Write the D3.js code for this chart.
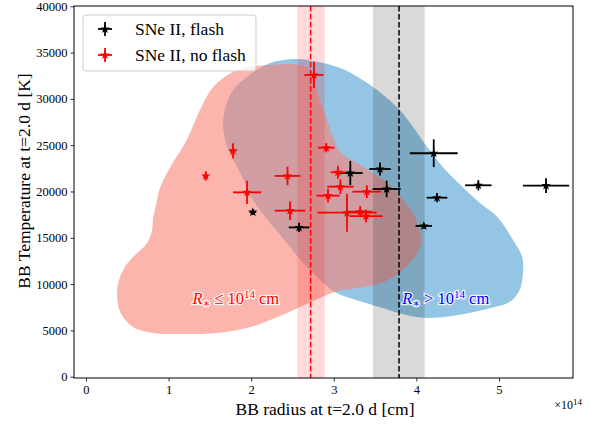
<!DOCTYPE html>
<html>
<head>
<meta charset="utf-8">
<script src="https://cdn.jsdelivr.net/npm/d3@7/dist/d3.min.js"></script>
<style>
  body { margin: 0; background: #ffffff; }
  svg text { font-family: "Liberation Serif", "DejaVu Serif", serif; }
</style>
</head>
<body>
<div id="container_div"></div>
<script>
/*****************************************
 * Description: BB radius vs temperature *
 *****************************************/

/********
 * Data *
 ********/

// SNe II with flash features: radius [1e14 cm], temperature [K], errors
var gvFlashX    = [2.02, 2.58, 3.20, 3.56, 3.64, 4.21, 4.25, 4.09, 4.75, 5.57];
var gvFlashY    = [17770, 16120, 22000, 22430, 20270, 24130, 19330, 16280, 20670, 20630];
var gvFlashXErr = [0.04, 0.125, 0.15, 0.13, 0.17, 0.29, 0.125, 0.10, 0.16, 0.28];
var gvFlashYErr = [300, 500, 1300, 700, 900, 1500, 500, 300, 550, 800];

// SNe II without flash features
var gvNoFlashX    = [1.45, 1.78, 1.95, 2.44, 2.47, 2.76, 2.91, 3.05, 3.08, 2.93, 3.40, 3.16, 3.32, 3.39];
var gvNoFlashY    = [21680, 24400, 19910, 21680, 17930, 32580, 24730, 22070, 20520, 19550, 19980, 17710, 17820, 17350];
var gvNoFlashXErr = [0.03, 0.04, 0.17, 0.155, 0.185, 0.115, 0.10, 0.09, 0.16, 0.14, 0.175, 0.36, 0.15, 0.20];
var gvNoFlashYErr = [500, 800, 1250, 1000, 1000, 1400, 500, 700, 800, 750, 700, 2050, 600, 700];

// mean radius and its uncertainty band for each group
var gvSmallMean = 2.72;
var gvSmallBand = [2.56, 2.89];
var gvLargeMean = 3.79;
var gvLargeBand = [3.475, 4.10];

// KDE contour outlines (radius, temperature)
var gvSmallKdeX = [1.78, 1.99, 2.23, 2.47, 2.59, 2.71, 2.78, 2.83, 2.91, 2.99, 3.08, 3.28, 3.47, 3.68, 3.84, 3.96, 4.03, 4.06, 4.02, 3.92, 3.74, 3.54, 3.29, 3.05, 2.83, 2.59, 2.35, 1.99, 1.59, 1.22, 0.81, 0.57, 0.42, 0.38, 0.39, 0.47, 0.57, 0.74, 0.80, 0.81, 0.86, 0.90, 1.02, 1.22, 1.38, 1.54];
var gvSmallKdeY = [32910, 33450, 33660, 33770, 33660, 33230, 31500, 29880, 27940, 25890, 24270, 23080, 22000, 20700, 19080, 17680, 16170, 14760, 13470, 12280, 10870, 10010, 9580, 9250, 8500, 7530, 6560, 5370, 4720, 4610, 4720, 5370, 6880, 8280, 10120, 11840, 12930, 14440, 15840, 16920, 19080, 20490, 22650, 25570, 28800, 31290];

var gvLargeKdeX = [2.55, 2.75, 3.08, 3.35, 3.60, 3.80, 3.96, 4.13, 4.32, 4.56, 4.77, 4.98, 5.17, 5.28, 5.29, 5.25, 5.13, 4.93, 4.65, 4.29, 4.04, 3.80, 3.56, 3.26, 3.01, 2.86, 2.63, 2.43, 2.23, 2.02, 1.95, 1.83, 1.71, 1.66, 1.68, 1.78, 1.95, 2.23];
var gvLargeKdeY = [34310, 34100, 33340, 32040, 30420, 28800, 26970, 24810, 22650, 20490, 18760, 17250, 14760, 12930, 11200, 9360, 8070, 7500, 6900, 6400, 6400, 6850, 7500, 8300, 9150, 10230, 12280, 14440, 16600, 19080, 20490, 22650, 24810, 26970, 28800, 30960, 32360, 33880];

var gvXTicks = [0, 1, 2, 3, 4, 5];
var gvYTicks = [0, 5000, 10000, 15000, 20000, 25000, 30000, 35000, 40000];

/*******************
 * Page Constructor *
 *******************/

function buildPage() {

  var width = 592;
  var height = 426;
  var margin = {left: 74, right: 19, top: 6, bottom: 48};

  var svg = d3.select('#container_div')
    .append('svg')
    .attr('width', width)
    .attr('height', height);

  var x = d3.scaleLinear()
    .domain([-0.145, 5.896])
    .range([margin.left, width - margin.right]);

  var y = d3.scaleLinear()
    .domain([-140, 40030])
    .range([height - margin.bottom, margin.top]);

  svg.append('clipPath').attr('id', 'plotClip')
    .append('rect')
    .attr('x', margin.left).attr('y', margin.top)
    .attr('width', width - margin.left - margin.right)
    .attr('height', height - margin.top - margin.bottom);

  var plot = svg.append('g').attr('clip-path', 'url(#plotClip)');

  // KDE shapes - blue first, salmon on top
  var line = d3.line()
    .x(function(d) { return x(d[0]); })
    .y(function(d) { return y(d[1]); })
    .curve(d3.curveCatmullRomClosed.alpha(0.5));

  plot.append('path')
    .datum(d3.zip(gvLargeKdeX, gvLargeKdeY))
    .attr('d', line)
    .attr('fill', '#2b8cc9')
    .attr('fill-opacity', 0.5);

  plot.append('path')
    .datum(d3.zip(gvSmallKdeX, gvSmallKdeY))
    .attr('d', line)
    .attr('fill', '#fa8072')
    .attr('fill-opacity', 0.58);

  // uncertainty bands and mean lines
  var bands = [
    {band: gvSmallBand, mean: gvSmallMean, fill: 'red', op: 0.15, stroke: 'red'},
    {band: gvLargeBand, mean: gvLargeMean, fill: 'black', op: 0.15, stroke: 'black'}
  ];

  bands.forEach(function(b) {
    plot.append('rect')
      .attr('x', x(b.band[0]))
      .attr('width', x(b.band[1]) - x(b.band[0]))
      .attr('y', margin.top)
      .attr('height', height - margin.top - margin.bottom)
      .attr('fill', b.fill)
      .attr('fill-opacity', b.op);
    plot.append('line')
      .attr('x1', x(b.mean)).attr('x2', x(b.mean))
      .attr('y1', margin.top).attr('y2', height - margin.bottom)
      .attr('stroke', b.stroke)
      .attr('stroke-width', 1.5)
      .attr('stroke-dasharray', '5.5,2.5');
  });

  // region labels
  addRegionLabel(svg, x(1.29), y(7900), '\u2264', 'red');
  addRegionLabel(svg, x(3.83), y(7900), '>', 'blue');

  // error bars
  drawSeries(plot, x, y, gvFlashX, gvFlashY, gvFlashXErr, gvFlashYErr, 'black');
  drawSeries(plot, x, y, gvNoFlashX, gvNoFlashY, gvNoFlashXErr, gvNoFlashYErr, 'red');

  // axes
  var xAxis = d3.axisBottom(x).tickValues(gvXTicks).tickSize(3.5).tickPadding(4)
    .tickFormat(d3.format('d'));
  var yAxis = d3.axisLeft(y).tickValues(gvYTicks).tickSize(3.5).tickPadding(3)
    .tickFormat(function(d) { return d; });

  var gx = svg.append('g')
    .attr('transform', 'translate(0,' + (height - margin.bottom) + ')')
    .call(xAxis);
  var gy = svg.append('g')
    .attr('transform', 'translate(' + margin.left + ',0)')
    .call(yAxis);

  [gx, gy].forEach(function(g) {
    g.attr('font-family', null).attr('font-size', null);
    g.select('.domain').remove();
    g.selectAll('line').attr('stroke', 'black').attr('stroke-width', 0.8);
    g.selectAll('text').attr('fill', 'black').style('font-size', '12.5px');
  });

  // spines
  svg.append('rect')
    .attr('x', margin.left).attr('y', margin.top)
    .attr('width', width - margin.left - margin.right)
    .attr('height', height - margin.top - margin.bottom)
    .attr('fill', 'none')
    .attr('stroke', 'black')
    .attr('stroke-width', 1);

  // axis labels
  svg.append('text')
    .attr('x', 325)
    .attr('y', 415)
    .attr('text-anchor', 'middle')
    .style('font-size', '17.5px')
    .text('BB radius at t=2.0 d [cm]');

  svg.append('text')
    .attr('transform', 'translate(30,181) rotate(-90)')
    .attr('text-anchor', 'middle')
    .style('font-size', '17.5px')
    .text('BB Temperature at t=2.0 d [K]');

  var off = svg.append('text')
    .attr('x', 582)
    .attr('y', 409)
    .attr('text-anchor', 'end')
    .style('font-size', '12px');
  off.append('tspan').text('\u00d710');
  off.append('tspan').attr('dy', -4).style('font-size', '9px').text('14');

  // legend
  var legend = svg.append('g');
  legend.append('rect')
    .attr('x', 83).attr('y', 15)
    .attr('width', 173).attr('height', 56)
    .attr('rx', 3)
    .attr('fill', 'white').attr('fill-opacity', 0.8)
    .attr('stroke', '#cccccc').attr('stroke-width', 1);

  var items = [
    {label: 'SNe II, flash', color: 'black', cy: 29},
    {label: 'SNe II, no flash', color: 'red', cy: 55}
  ];
  items.forEach(function(it) {
    legend.append('line')
      .attr('x1', 98).attr('x2', 112).attr('y1', it.cy).attr('y2', it.cy)
      .attr('stroke', it.color).attr('stroke-width', 1.8);
    legend.append('line')
      .attr('x1', 105).attr('x2', 105).attr('y1', it.cy - 7).attr('y2', it.cy + 7)
      .attr('stroke', it.color).attr('stroke-width', 1.8);
    legend.append('path')
      .attr('transform', 'translate(105,' + it.cy + ')')
      .attr('d', d3.symbol().type(d3.symbolStar).size(28))
      .attr('fill', it.color);
    legend.append('text')
      .attr('x', 135).attr('y', it.cy + 5.5)
      .style('font-size', '17.5px')
      .attr('fill', 'black')
      .text(it.label);
  });
}

/***************
 * Other Funcs *
 ***************/

function drawSeries(pvG, x, y, pvX, pvY, pvXErr, pvYErr, pvColour) {

  var g = pvG.append('g');

  for (var i = 0; i < pvX.length; i++) {
    g.append('line')
      .attr('x1', x(pvX[i] - pvXErr[i])).attr('x2', x(pvX[i] + pvXErr[i]))
      .attr('y1', y(pvY[i])).attr('y2', y(pvY[i]))
      .attr('stroke', pvColour).attr('stroke-width', 1.8);
    g.append('line')
      .attr('x1', x(pvX[i])).attr('x2', x(pvX[i]))
      .attr('y1', y(pvY[i] - pvYErr[i])).attr('y2', y(pvY[i] + pvYErr[i]))
      .attr('stroke', pvColour).attr('stroke-width', 1.8);
    g.append('path')
      .attr('transform', 'translate(' + x(pvX[i]) + ',' + y(pvY[i]) + ')')
      .attr('d', d3.symbol().type(d3.symbolStar).size(28))
      .attr('fill', pvColour);
  }
}

function addRegionLabel(pvSvg, pvX, pvY, pvSign, pvColour) {

  var t = pvSvg.append('text')
    .attr('x', pvX)
    .attr('y', pvY)
    .attr('fill', pvColour)
    .attr('stroke', 'white')
    .attr('stroke-width', 2.5)
    .attr('stroke-opacity', 0.85)
    .attr('paint-order', 'stroke')
    .style('font-size', '16.5px');

  t.append('tspan').style('font-style', 'italic').text('R');
  t.append('tspan').attr('dy', 3).style('font-size', '11px').text('\u2217');
  t.append('tspan').attr('dy', -3).text(' ' + pvSign + ' 10');
  t.append('tspan').attr('dy', -6).style('font-size', '11px').text('14');
  t.append('tspan').attr('dy', 6).text(' cm');
}

buildPage();
</script>
</body>
</html>
